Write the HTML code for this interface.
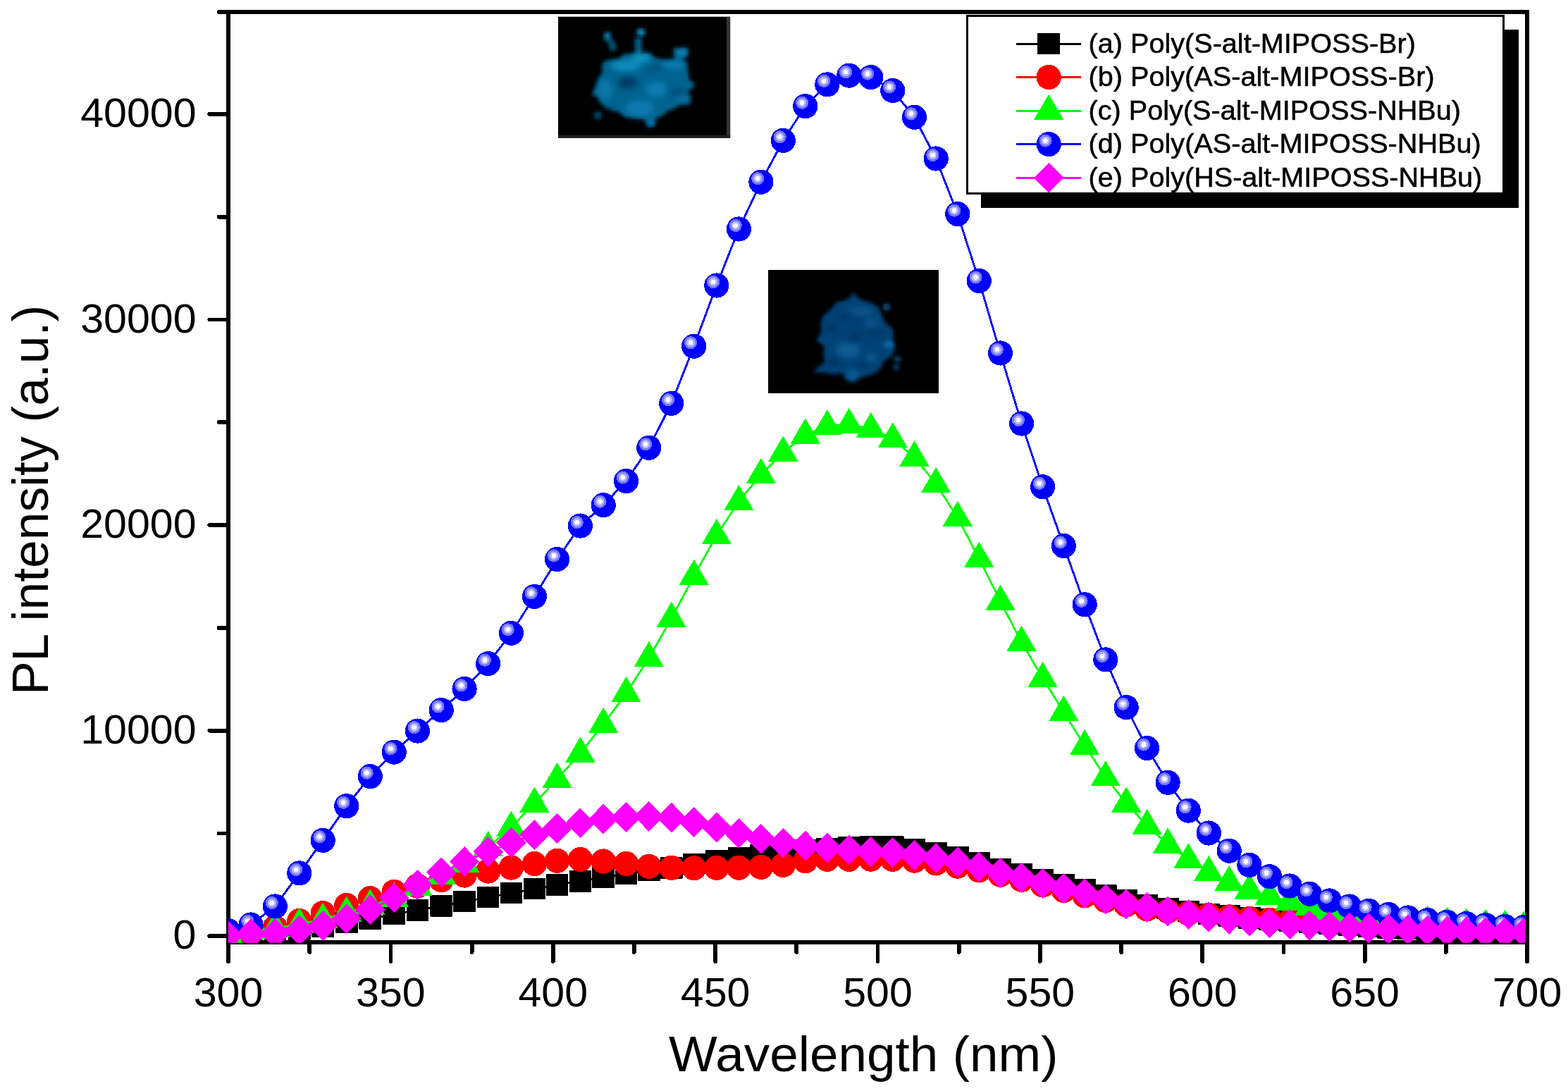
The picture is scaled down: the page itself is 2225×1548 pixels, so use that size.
<!DOCTYPE html>
<html lang="en"><head><meta charset="utf-8"><title>PL intensity vs wavelength</title>
<style>
html,body{margin:0;padding:0;background:#fff;}
body{width:2225px;height:1548px;}
svg{display:block;}
text{font-family:"Liberation Sans",sans-serif;fill:#000;}
.ax{stroke:#000;stroke-width:5.8;fill:none;stroke-linecap:butt;}
.tk{stroke:#000;stroke-width:5.8;fill:none;stroke-linecap:round;}
.tl{font-size:57.00px;}
.tt{font-size:71.30px;}
.lg{font-size:38.40px;stroke:#000;stroke-width:0.55px;}
</style></head><body>
<svg width="2225" height="1548" viewBox="0 0 2225 1548" role="img" aria-label="PL intensity versus wavelength">
<defs>
<clipPath id="plot"><rect x="324" y="17" width="1840.3" height="1320.7"/></clipPath>
<filter id="b1" x="-20%" y="-20%" width="140%" height="140%"><feGaussianBlur stdDeviation="2.2"/></filter>
<filter id="b2" x="-30%" y="-30%" width="160%" height="160%"><feGaussianBlur stdDeviation="4"/></filter>
<filter id="pix" x="0" y="0" width="100%" height="100%" color-interpolation-filters="sRGB"><feFlood x="2" y="2" width="1" height="1"/><feComposite width="4.5" height="4.5"/><feTile result="dots"/><feComposite in="SourceGraphic" in2="dots" operator="in"/><feMorphology operator="dilate" radius="2.25"/><feGaussianBlur stdDeviation="0.9"/></filter>
<clipPath id="ph1"><rect x="792" y="23.8" width="244.1" height="172"/></clipPath>
<clipPath id="ph2"><rect x="1090" y="383" width="242" height="175"/></clipPath>
<g id="mS"><rect x="-15.8" y="-15.3" width="31.6" height="30.6" rx="0.8" fill="#000"/></g>
<g id="mSl"><rect x="-16.05" y="-15.6" width="32.1" height="29.8" rx="0.8" fill="#000"/></g>
<g id="mC"><circle r="17.65" fill="#f00"/></g>
<g id="mT"><path d="M0,-23.6 L21.2,12.65 L-21.2,12.65 Z" fill="#0f0"/></g>
<g id="mB"><circle r="17.6" fill="#00f"/><circle cx="-4.7" cy="-5.0" r="9.1" fill="#7878f4"/><circle cx="-4.7" cy="-5.0" r="6.1" fill="#b6b6ff"/><circle cx="-4.7" cy="-5.0" r="3.3" fill="#fafaff"/></g>
<g id="mD"><path d="M0,-21.45 L21.25,0 L0,21.45 L-21.25,0 Z" fill="#f0f"/></g>
</defs>
<rect width="2225" height="1548" fill="#fff"/>
<g id="axes" shape-rendering="crispEdges">
<path class="ax" d="M324.0,14.0 V1364.0"/>
<path class="ax" d="M2167.0,14.0 V1364.0"/>
<path class="ax" d="M321.1,16.9 H2169.9"/>
<path class="ax" d="M321.1,1337.0 H2169.9"/>
<path class="tk" d="M297.3,1328.2 H324.0"/>
<path class="tk" d="M310.5,1182.4 H324.0"/>
<path class="tk" d="M297.3,1036.6 H324.0"/>
<path class="tk" d="M310.5,890.8 H324.0"/>
<path class="tk" d="M297.3,745.0 H324.0"/>
<path class="tk" d="M310.5,599.2 H324.0"/>
<path class="tk" d="M297.3,453.4 H324.0"/>
<path class="tk" d="M310.5,307.6 H324.0"/>
<path class="tk" d="M297.3,161.8 H324.0"/>
<path class="tk" d="M310.5,16.9 H324.0"/>
<path class="tk" d="M324.0,1337.0 V1364.0"/>
<path class="tk" d="M439.2,1337.0 V1351.0"/>
<path class="tk" d="M554.4,1337.0 V1364.0"/>
<path class="tk" d="M669.6,1337.0 V1351.0"/>
<path class="tk" d="M784.8,1337.0 V1364.0"/>
<path class="tk" d="M899.9,1337.0 V1351.0"/>
<path class="tk" d="M1015.1,1337.0 V1364.0"/>
<path class="tk" d="M1130.3,1337.0 V1351.0"/>
<path class="tk" d="M1245.5,1337.0 V1364.0"/>
<path class="tk" d="M1360.7,1337.0 V1351.0"/>
<path class="tk" d="M1475.9,1337.0 V1364.0"/>
<path class="tk" d="M1591.1,1337.0 V1351.0"/>
<path class="tk" d="M1706.2,1337.0 V1364.0"/>
<path class="tk" d="M1821.4,1337.0 V1351.0"/>
<path class="tk" d="M1936.6,1337.0 V1364.0"/>
<path class="tk" d="M2051.8,1337.0 V1351.0"/>
<path class="tk" d="M2167.0,1337.0 V1364.0"/>
</g>
<g id="ticklabels" class="tl">
<text transform="translate(278.5,1346.4) scale(1.0370,1)" text-anchor="end">0</text>
<text transform="translate(278.5,1054.8) scale(1.0370,1)" text-anchor="end">10000</text>
<text transform="translate(278.5,763.2) scale(1.0370,1)" text-anchor="end">20000</text>
<text transform="translate(278.5,471.6) scale(1.0370,1)" text-anchor="end">30000</text>
<text transform="translate(278.5,180.0) scale(1.0370,1)" text-anchor="end">40000</text>
<text transform="translate(324.0,1427.8) scale(1.0370,1)" text-anchor="middle">300</text>
<text transform="translate(554.4,1427.8) scale(1.0370,1)" text-anchor="middle">350</text>
<text transform="translate(784.8,1427.8) scale(1.0370,1)" text-anchor="middle">400</text>
<text transform="translate(1015.1,1427.8) scale(1.0370,1)" text-anchor="middle">450</text>
<text transform="translate(1245.5,1427.8) scale(1.0370,1)" text-anchor="middle">500</text>
<text transform="translate(1475.9,1427.8) scale(1.0370,1)" text-anchor="middle">550</text>
<text transform="translate(1706.2,1427.8) scale(1.0370,1)" text-anchor="middle">600</text>
<text transform="translate(1936.6,1427.8) scale(1.0370,1)" text-anchor="middle">650</text>
<text transform="translate(2167.0,1427.8) scale(1.0370,1)" text-anchor="middle">700</text>
</g>
<text class="tt" x="1225.3" y="1519.5" text-anchor="middle" textLength="552.6" lengthAdjust="spacingAndGlyphs">Wavelength (nm)</text>
<text style="font-size:71.50px" transform="translate(67.6,709.4) rotate(-90)" text-anchor="middle" textLength="553.3" lengthAdjust="spacingAndGlyphs">PL intensity (a.u.)</text>
<g id="photo1">
<rect x="792" y="23.8" width="244.1" height="172" fill="#000"/>
<g clip-path="url(#ph1)"><g transform="translate(792,23.8)"><g filter="url(#pix)"><g transform="translate(-792,-23.8)"><rect x="792" y="23.8" width="244.1" height="172" fill="#000"/>
<g filter="url(#b1)">
<polygon points="859.1,86.2 880.4,84.3 884.3,77.5 897.8,76.5 907.5,75.5 920.1,76.5 927.9,81.4 936.6,84.3 951.1,86.2 959.8,84.3 973.4,87.2 975.3,97.8 977.3,113.3 985.0,119.1 985.0,123.0 977.3,126.9 975.3,134.7 979.2,137.6 978.3,146.3 963.7,148.2 957.9,153.1 946.3,156.9 939.5,163.7 926.9,170.5 917.2,170.5 907.5,167.6 888.1,165.7 878.4,158.9 868.8,155.0 859.1,151.1 851.3,144.3 849.4,136.6 839.7,134.7 846.5,122.1 849.4,112.4 855.2,102.7 854.2,93.0" fill="#04648f"/>
<polygon points="858.1,46.5 865.9,46.5 867.3,55.2 873.1,62.9 874.1,71.2 865.9,71.2 863.9,61.0 857.1,55.2" fill="#045274"/>
<polygon points="901.2,54.2 910.4,54.2 909.5,75.5 901.7,76.5" fill="#04608c"/>
<polygon points="956.0,68.8 975.3,67.8 976.3,78.4 968.6,84.3 958.9,86.2 956.9,78.4" fill="#046a9c"/>
<ellipse cx="862.0" cy="50.3" rx="4.1" ry="4.1" fill="#0a7ca8"/>
<ellipse cx="909.5" cy="46.0" rx="6.0" ry="5.0" fill="#0a86b6"/>
<ellipse cx="967.6" cy="73.6" rx="6.8" ry="4.8" fill="#0a7ab2"/>
<ellipse cx="848.4" cy="163.7" rx="5.3" ry="4.8" fill="#044a70"/>
<ellipse cx="923.5" cy="174.4" rx="6.8" ry="5.8" fill="#0670a6"/>
</g>
<clipPath id="bd1"><polygon points="859.1,86.2 880.4,84.3 884.3,77.5 897.8,76.5 907.5,75.5 920.1,76.5 927.9,81.4 936.6,84.3 951.1,86.2 959.8,84.3 973.4,87.2 975.3,97.8 977.3,113.3 985.0,119.1 985.0,123.0 977.3,126.9 975.3,134.7 979.2,137.6 978.3,146.3 963.7,148.2 957.9,153.1 946.3,156.9 939.5,163.7 926.9,170.5 917.2,170.5 907.5,167.6 888.1,165.7 878.4,158.9 868.8,155.0 859.1,151.1 851.3,144.3 849.4,136.6 839.7,134.7 846.5,122.1 849.4,112.4 855.2,102.7 854.2,93.0"/></clipPath>
<g filter="url(#b2)"><g clip-path="url(#bd1)">
<ellipse cx="888.1" cy="93.0" rx="20.3" ry="7.3" fill="#0a90c0"/>
<ellipse cx="910.4" cy="82.3" rx="13.6" ry="5.8" fill="#0a98c4"/>
<ellipse cx="956.0" cy="91.0" rx="16.5" ry="4.8" fill="#0a80b8"/>
<ellipse cx="890.1" cy="117.2" rx="14.5" ry="9.7" fill="#033e64"/>
<ellipse cx="929.8" cy="95.9" rx="12.6" ry="4.4" fill="#044e76"/>
<ellipse cx="931.7" cy="126.9" rx="15.5" ry="10.7" fill="#0a7ab0"/>
<ellipse cx="960.8" cy="130.8" rx="15.5" ry="5.8" fill="#04507c"/>
<ellipse cx="858.1" cy="126.9" rx="9.7" ry="14.5" fill="#0a78a8"/>
<ellipse cx="907.5" cy="154.0" rx="20.3" ry="11.6" fill="#0a78ae"/>
<ellipse cx="970.5" cy="141.4" rx="8.7" ry="4.8" fill="#0a6ea4"/>
<ellipse cx="870.7" cy="148.2" rx="10.7" ry="5.8" fill="#055f90"/>
</g></g>
</g></g></g></g>
<rect x="1031" y="23.8" width="5.1" height="172" fill="#333"/>
<rect x="792" y="191.8" width="244.1" height="4" fill="#222"/>
</g>
<g id="photo2">
<rect x="1090" y="383" width="242" height="175" fill="#000"/>
<g clip-path="url(#ph2)"><g transform="translate(1090,383)"><g filter="url(#pix)"><g transform="translate(-1090,-383)"><rect x="1090" y="383" width="242" height="175" fill="#000"/>
<g filter="url(#b1)">
<polygon points="1210.4,414.5 1215.3,422.3 1225.0,427.1 1236.6,431.0 1246.3,436.8 1251.1,448.4 1255.0,458.1 1265.7,465.9 1267.6,477.5 1265.7,485.3 1269.5,489.1 1268.6,496.9 1265.7,504.7 1254.0,511.4 1249.2,522.1 1241.4,528.9 1226.9,533.7 1217.2,535.7 1209.5,541.5 1199.8,535.7 1195.9,528.9 1184.3,529.8 1168.8,527.9 1154.2,527.9 1162.0,521.1 1170.7,514.3 1168.8,501.7 1170.7,492.1 1159.1,482.4 1165.9,472.7 1164.9,458.1 1168.8,448.4 1178.4,440.7 1188.1,429.1 1197.8,427.1 1205.6,424.2" fill="#024274"/>
<ellipse cx="1257.9" cy="435.9" rx="4.1" ry="4.1" fill="#0a5e98"/>
<ellipse cx="1273.4" cy="509.5" rx="4.1" ry="3.5" fill="#0a4e84"/>
<ellipse cx="1272.0" cy="520.6" rx="3.9" ry="3.5" fill="#04427a"/>
<ellipse cx="1261.8" cy="488.7" rx="6.8" ry="4.8" fill="#0a66a6"/>
</g>
<clipPath id="bd2"><polygon points="1210.4,414.5 1215.3,422.3 1225.0,427.1 1236.6,431.0 1246.3,436.8 1251.1,448.4 1255.0,458.1 1265.7,465.9 1267.6,477.5 1265.7,485.3 1269.5,489.1 1268.6,496.9 1265.7,504.7 1254.0,511.4 1249.2,522.1 1241.4,528.9 1226.9,533.7 1217.2,535.7 1209.5,541.5 1199.8,535.7 1195.9,528.9 1184.3,529.8 1168.8,527.9 1154.2,527.9 1162.0,521.1 1170.7,514.3 1168.8,501.7 1170.7,492.1 1159.1,482.4 1165.9,472.7 1164.9,458.1 1168.8,448.4 1178.4,440.7 1188.1,429.1 1197.8,427.1 1205.6,424.2"/></clipPath>
<g filter="url(#b2)"><g clip-path="url(#bd2)">
<ellipse cx="1222.1" cy="441.7" rx="19.4" ry="5.3" fill="#0a548c"/>
<ellipse cx="1203.6" cy="449.9" rx="16.5" ry="3.1" fill="#022e5e"/>
<ellipse cx="1180.4" cy="465.9" rx="8.7" ry="4.4" fill="#022a5a"/>
<ellipse cx="1212.4" cy="478.5" rx="6.8" ry="5.3" fill="#022c58"/>
<ellipse cx="1241.4" cy="471.2" rx="15.5" ry="3.9" fill="#023062"/>
<ellipse cx="1203.6" cy="496.9" rx="16.5" ry="10.7" fill="#0a5a92"/>
<ellipse cx="1236.6" cy="507.6" rx="7.8" ry="4.8" fill="#0a5c96"/>
<ellipse cx="1183.3" cy="514.8" rx="10.7" ry="3.9" fill="#022654"/>
<ellipse cx="1222.1" cy="518.7" rx="10.7" ry="3.4" fill="#023264"/>
<ellipse cx="1210.4" cy="532.8" rx="8.7" ry="6.8" fill="#0a609c"/>
<ellipse cx="1182.3" cy="525.0" rx="7.8" ry="2.9" fill="#044486"/>
<ellipse cx="1236.6" cy="458.1" rx="10.7" ry="5.8" fill="#085088"/>
</g></g>
</g></g></g></g></g>
<g id="series" clip-path="url(#plot)" shape-rendering="crispEdges">
<g id="sa">
<polyline fill="none" stroke="#000" stroke-width="2.8" stroke-linejoin="round" points="324.0,1327.0 356.0,1325.0 390.4,1321.0 424.8,1318.4 458.2,1314.4 491.8,1309.2 525.3,1303.3 559.2,1297.1 592.4,1291.3 626.2,1285.3 659.1,1279.2 692.6,1273.2 725.4,1267.1 758.4,1261.1 790.6,1255.3 823.4,1250.3 856.2,1245.2 888.5,1240.0 920.8,1234.9 952.8,1231.7 984.7,1225.9 1016.8,1220.8 1048.4,1217.1 1079.9,1213.5 1111.3,1210.0 1142.8,1206.7 1173.8,1204.0 1204.8,1202.0 1235.8,1201.5 1266.8,1201.5 1297.5,1205.7 1328.2,1209.8 1358.8,1215.8 1389.3,1224.1 1419.5,1232.9 1449.6,1240.5 1479.6,1248.0 1509.4,1254.8 1539.2,1262.6 1568.8,1270.7 1598.2,1277.7 1627.6,1284.0 1657.1,1289.0 1686.3,1292.8 1715.3,1297.1 1744.2,1299.4 1772.9,1302.5 1801.6,1304.7 1830.2,1306.6 1858.4,1309.0 1886.5,1311.0 1914.7,1313.0 1942.3,1314.9 1970.2,1316.3 1998.0,1317.6 2025.7,1318.8 2053.3,1320.0 2080.8,1321.0 2108.0,1322.0 2135.4,1322.8 2162.2,1323.5"/>
<use href="#mS" x="324.0" y="1327.0"/>
<use href="#mS" x="356.0" y="1325.0"/>
<use href="#mS" x="390.4" y="1321.0"/>
<use href="#mS" x="424.8" y="1318.4"/>
<use href="#mS" x="458.2" y="1314.4"/>
<use href="#mS" x="491.8" y="1309.2"/>
<use href="#mS" x="525.3" y="1303.3"/>
<use href="#mS" x="559.2" y="1297.1"/>
<use href="#mS" x="592.4" y="1291.3"/>
<use href="#mS" x="626.2" y="1285.3"/>
<use href="#mS" x="659.1" y="1279.2"/>
<use href="#mS" x="692.6" y="1273.2"/>
<use href="#mS" x="725.4" y="1267.1"/>
<use href="#mS" x="758.4" y="1261.1"/>
<use href="#mS" x="790.6" y="1255.3"/>
<use href="#mS" x="823.4" y="1250.3"/>
<use href="#mS" x="856.2" y="1245.2"/>
<use href="#mS" x="888.5" y="1240.0"/>
<use href="#mS" x="920.8" y="1234.9"/>
<use href="#mS" x="952.8" y="1231.7"/>
<use href="#mS" x="984.7" y="1225.9"/>
<use href="#mS" x="1016.8" y="1220.8"/>
<use href="#mS" x="1048.4" y="1217.1"/>
<use href="#mS" x="1079.9" y="1213.5"/>
<use href="#mS" x="1111.3" y="1210.0"/>
<use href="#mS" x="1142.8" y="1206.7"/>
<use href="#mS" x="1173.8" y="1204.0"/>
<use href="#mS" x="1204.8" y="1202.0"/>
<use href="#mS" x="1235.8" y="1201.5"/>
<use href="#mS" x="1266.8" y="1201.5"/>
<use href="#mS" x="1297.5" y="1205.7"/>
<use href="#mS" x="1328.2" y="1209.8"/>
<use href="#mS" x="1358.8" y="1215.8"/>
<use href="#mS" x="1389.3" y="1224.1"/>
<use href="#mS" x="1419.5" y="1232.9"/>
<use href="#mS" x="1449.6" y="1240.5"/>
<use href="#mS" x="1479.6" y="1248.0"/>
<use href="#mS" x="1509.4" y="1254.8"/>
<use href="#mS" x="1539.2" y="1262.6"/>
<use href="#mS" x="1568.8" y="1270.7"/>
<use href="#mS" x="1598.2" y="1277.7"/>
<use href="#mS" x="1627.6" y="1284.0"/>
<use href="#mS" x="1657.1" y="1289.0"/>
<use href="#mS" x="1686.3" y="1292.8"/>
<use href="#mS" x="1715.3" y="1297.1"/>
<use href="#mS" x="1744.2" y="1299.4"/>
<use href="#mS" x="1772.9" y="1302.5"/>
<use href="#mS" x="1801.6" y="1304.7"/>
<use href="#mS" x="1830.2" y="1306.6"/>
<use href="#mS" x="1858.4" y="1309.0"/>
<use href="#mS" x="1886.5" y="1311.0"/>
<use href="#mS" x="1914.7" y="1313.0"/>
<use href="#mS" x="1942.3" y="1314.9"/>
<use href="#mS" x="1970.2" y="1316.3"/>
<use href="#mS" x="1998.0" y="1317.6"/>
<use href="#mS" x="2025.7" y="1318.8"/>
<use href="#mS" x="2053.3" y="1320.0"/>
<use href="#mS" x="2080.8" y="1321.0"/>
<use href="#mS" x="2108.0" y="1322.0"/>
<use href="#mS" x="2135.4" y="1322.8"/>
<use href="#mS" x="2162.2" y="1323.5"/>
</g>
<g id="sb">
<polyline fill="none" stroke="#f00" stroke-width="2.8" stroke-linejoin="round" points="324.0,1326.0 356.0,1323.0 390.4,1316.0 424.8,1306.5 458.2,1295.6 491.8,1284.5 525.3,1274.6 559.2,1265.4 592.4,1257.0 626.2,1248.5 659.1,1242.0 692.6,1236.0 725.4,1231.0 758.4,1225.6 790.6,1221.3 823.4,1219.5 856.2,1222.0 888.5,1225.6 920.8,1229.4 952.8,1231.2 984.7,1231.7 1016.8,1231.4 1048.4,1231.2 1079.9,1230.4 1111.3,1227.4 1142.8,1221.6 1173.8,1219.3 1204.8,1219.3 1235.8,1219.1 1266.8,1219.3 1297.5,1221.1 1328.2,1224.9 1358.8,1229.1 1389.3,1234.9 1419.5,1241.2 1449.6,1248.3 1479.6,1255.8 1509.4,1263.4 1539.2,1270.9 1568.8,1277.7 1598.2,1284.0 1627.6,1289.8 1657.1,1293.0 1686.3,1296.0 1715.3,1298.3 1744.2,1300.9 1772.9,1303.3 1801.6,1305.3 1830.2,1307.0 1858.4,1308.5 1886.5,1310.0 1914.7,1311.3 1942.3,1312.5 1970.2,1313.5 1998.0,1314.5 2025.7,1315.5 2053.3,1316.3 2080.8,1317.0 2108.0,1317.7 2135.4,1318.3 2162.2,1319.0"/>
<use href="#mC" x="324.0" y="1326.0"/>
<use href="#mC" x="356.0" y="1323.0"/>
<use href="#mC" x="390.4" y="1316.0"/>
<use href="#mC" x="424.8" y="1306.5"/>
<use href="#mC" x="458.2" y="1295.6"/>
<use href="#mC" x="491.8" y="1284.5"/>
<use href="#mC" x="525.3" y="1274.6"/>
<use href="#mC" x="559.2" y="1265.4"/>
<use href="#mC" x="592.4" y="1257.0"/>
<use href="#mC" x="626.2" y="1248.5"/>
<use href="#mC" x="659.1" y="1242.0"/>
<use href="#mC" x="692.6" y="1236.0"/>
<use href="#mC" x="725.4" y="1231.0"/>
<use href="#mC" x="758.4" y="1225.6"/>
<use href="#mC" x="790.6" y="1221.3"/>
<use href="#mC" x="823.4" y="1219.5"/>
<use href="#mC" x="856.2" y="1222.0"/>
<use href="#mC" x="888.5" y="1225.6"/>
<use href="#mC" x="920.8" y="1229.4"/>
<use href="#mC" x="952.8" y="1231.2"/>
<use href="#mC" x="984.7" y="1231.7"/>
<use href="#mC" x="1016.8" y="1231.4"/>
<use href="#mC" x="1048.4" y="1231.2"/>
<use href="#mC" x="1079.9" y="1230.4"/>
<use href="#mC" x="1111.3" y="1227.4"/>
<use href="#mC" x="1142.8" y="1221.6"/>
<use href="#mC" x="1173.8" y="1219.3"/>
<use href="#mC" x="1204.8" y="1219.3"/>
<use href="#mC" x="1235.8" y="1219.1"/>
<use href="#mC" x="1266.8" y="1219.3"/>
<use href="#mC" x="1297.5" y="1221.1"/>
<use href="#mC" x="1328.2" y="1224.9"/>
<use href="#mC" x="1358.8" y="1229.1"/>
<use href="#mC" x="1389.3" y="1234.9"/>
<use href="#mC" x="1419.5" y="1241.2"/>
<use href="#mC" x="1449.6" y="1248.3"/>
<use href="#mC" x="1479.6" y="1255.8"/>
<use href="#mC" x="1509.4" y="1263.4"/>
<use href="#mC" x="1539.2" y="1270.9"/>
<use href="#mC" x="1568.8" y="1277.7"/>
<use href="#mC" x="1598.2" y="1284.0"/>
<use href="#mC" x="1627.6" y="1289.8"/>
<use href="#mC" x="1657.1" y="1293.0"/>
<use href="#mC" x="1686.3" y="1296.0"/>
<use href="#mC" x="1715.3" y="1298.3"/>
<use href="#mC" x="1744.2" y="1300.9"/>
<use href="#mC" x="1772.9" y="1303.3"/>
<use href="#mC" x="1801.6" y="1305.3"/>
<use href="#mC" x="1830.2" y="1307.0"/>
<use href="#mC" x="1858.4" y="1308.5"/>
<use href="#mC" x="1886.5" y="1310.0"/>
<use href="#mC" x="1914.7" y="1311.3"/>
<use href="#mC" x="1942.3" y="1312.5"/>
<use href="#mC" x="1970.2" y="1313.5"/>
<use href="#mC" x="1998.0" y="1314.5"/>
<use href="#mC" x="2025.7" y="1315.5"/>
<use href="#mC" x="2053.3" y="1316.3"/>
<use href="#mC" x="2080.8" y="1317.0"/>
<use href="#mC" x="2108.0" y="1317.7"/>
<use href="#mC" x="2135.4" y="1318.3"/>
<use href="#mC" x="2162.2" y="1319.0"/>
</g>
<g id="sc">
<polyline fill="none" stroke="#0f0" stroke-width="2.8" stroke-linejoin="round" points="324.0,1325.8 356.0,1320.5 390.4,1317.0 424.8,1311.4 458.2,1304.2 491.8,1295.0 525.3,1285.0 559.2,1274.8 592.4,1258.6 626.2,1242.7 659.1,1225.0 692.6,1202.4 725.4,1174.0 758.4,1140.0 790.6,1105.4 823.4,1069.0 856.2,1027.3 888.5,983.7 920.8,933.6 952.8,877.4 984.7,817.4 1016.8,759.6 1048.4,711.5 1079.9,673.5 1111.3,642.1 1142.8,616.9 1173.8,604.8 1204.8,602.3 1235.8,608.6 1266.8,622.7 1297.5,648.9 1328.2,686.5 1358.8,734.4 1389.3,792.3 1419.5,853.3 1449.6,911.2 1479.6,962.4 1509.4,1010.2 1539.2,1058.4 1568.8,1102.8 1598.2,1140.0 1627.6,1171.5 1657.1,1197.9 1686.3,1219.8 1715.3,1237.4 1744.2,1251.5 1772.9,1262.9 1801.6,1271.7 1830.2,1279.2 1858.4,1286.0 1886.5,1292.0 1914.7,1297.0 1942.3,1301.0 1970.2,1304.5 1998.0,1306.4 2025.7,1308.2 2053.3,1310.2 2080.8,1312.0 2108.0,1313.3 2135.4,1314.2 2162.2,1316.0"/>
<use href="#mT" x="324.0" y="1325.8"/>
<use href="#mT" x="356.0" y="1320.5"/>
<use href="#mT" x="390.4" y="1317.0"/>
<use href="#mT" x="424.8" y="1311.4"/>
<use href="#mT" x="458.2" y="1304.2"/>
<use href="#mT" x="491.8" y="1295.0"/>
<use href="#mT" x="525.3" y="1285.0"/>
<use href="#mT" x="559.2" y="1274.8"/>
<use href="#mT" x="592.4" y="1258.6"/>
<use href="#mT" x="626.2" y="1242.7"/>
<use href="#mT" x="659.1" y="1225.0"/>
<use href="#mT" x="692.6" y="1202.4"/>
<use href="#mT" x="725.4" y="1174.0"/>
<use href="#mT" x="758.4" y="1140.0"/>
<use href="#mT" x="790.6" y="1105.4"/>
<use href="#mT" x="823.4" y="1069.0"/>
<use href="#mT" x="856.2" y="1027.3"/>
<use href="#mT" x="888.5" y="983.7"/>
<use href="#mT" x="920.8" y="933.6"/>
<use href="#mT" x="952.8" y="877.4"/>
<use href="#mT" x="984.7" y="817.4"/>
<use href="#mT" x="1016.8" y="759.6"/>
<use href="#mT" x="1048.4" y="711.5"/>
<use href="#mT" x="1079.9" y="673.5"/>
<use href="#mT" x="1111.3" y="642.1"/>
<use href="#mT" x="1142.8" y="616.9"/>
<use href="#mT" x="1173.8" y="604.8"/>
<use href="#mT" x="1204.8" y="602.3"/>
<use href="#mT" x="1235.8" y="608.6"/>
<use href="#mT" x="1266.8" y="622.7"/>
<use href="#mT" x="1297.5" y="648.9"/>
<use href="#mT" x="1328.2" y="686.5"/>
<use href="#mT" x="1358.8" y="734.4"/>
<use href="#mT" x="1389.3" y="792.3"/>
<use href="#mT" x="1419.5" y="853.3"/>
<use href="#mT" x="1449.6" y="911.2"/>
<use href="#mT" x="1479.6" y="962.4"/>
<use href="#mT" x="1509.4" y="1010.2"/>
<use href="#mT" x="1539.2" y="1058.4"/>
<use href="#mT" x="1568.8" y="1102.8"/>
<use href="#mT" x="1598.2" y="1140.0"/>
<use href="#mT" x="1627.6" y="1171.5"/>
<use href="#mT" x="1657.1" y="1197.9"/>
<use href="#mT" x="1686.3" y="1219.8"/>
<use href="#mT" x="1715.3" y="1237.4"/>
<use href="#mT" x="1744.2" y="1251.5"/>
<use href="#mT" x="1772.9" y="1262.9"/>
<use href="#mT" x="1801.6" y="1271.7"/>
<use href="#mT" x="1830.2" y="1279.2"/>
<use href="#mT" x="1858.4" y="1286.0"/>
<use href="#mT" x="1886.5" y="1292.0"/>
<use href="#mT" x="1914.7" y="1297.0"/>
<use href="#mT" x="1942.3" y="1301.0"/>
<use href="#mT" x="1970.2" y="1304.5"/>
<use href="#mT" x="1998.0" y="1306.4"/>
<use href="#mT" x="2025.7" y="1308.2"/>
<use href="#mT" x="2053.3" y="1310.2"/>
<use href="#mT" x="2080.8" y="1312.0"/>
<use href="#mT" x="2108.0" y="1313.3"/>
<use href="#mT" x="2135.4" y="1314.2"/>
<use href="#mT" x="2162.2" y="1316.0"/>
</g>
<g id="sd">
<polyline fill="none" stroke="#00f" stroke-width="2.9" stroke-linejoin="round" points="324.0,1320.7 356.0,1312.0 390.4,1286.0 424.8,1238.9 458.2,1192.3 491.8,1143.7 525.3,1101.6 559.2,1067.1 592.4,1037.1 626.2,1007.6 659.1,977.4 692.6,941.6 725.4,898.3 758.4,846.4 790.6,793.5 823.4,746.1 856.2,716.7 888.5,682.5 920.8,635.3 952.8,572.3 984.7,491.2 1016.8,405.0 1048.4,325.0 1079.9,258.2 1111.3,199.3 1142.8,150.7 1173.8,119.9 1204.8,107.1 1235.8,109.6 1266.8,128.5 1297.5,166.3 1328.2,225.0 1358.8,303.6 1389.3,398.5 1419.5,501.0 1449.6,601.0 1479.6,690.8 1509.4,774.5 1539.2,857.8 1568.8,935.9 1598.2,1003.7 1627.6,1061.5 1657.1,1110.3 1686.3,1150.1 1715.3,1182.0 1744.2,1207.2 1772.9,1227.4 1801.6,1243.7 1830.2,1257.0 1858.4,1268.3 1886.5,1278.0 1914.7,1286.0 1942.3,1292.3 1970.2,1297.4 1998.0,1302.0 2025.7,1305.6 2053.3,1308.3 2080.8,1310.5 2108.0,1312.5 2135.4,1314.4 2162.2,1315.6"/>
<use href="#mB" x="324.0" y="1320.7"/>
<use href="#mB" x="356.0" y="1312.0"/>
<use href="#mB" x="390.4" y="1286.0"/>
<use href="#mB" x="424.8" y="1238.9"/>
<use href="#mB" x="458.2" y="1192.3"/>
<use href="#mB" x="491.8" y="1143.7"/>
<use href="#mB" x="525.3" y="1101.6"/>
<use href="#mB" x="559.2" y="1067.1"/>
<use href="#mB" x="592.4" y="1037.1"/>
<use href="#mB" x="626.2" y="1007.6"/>
<use href="#mB" x="659.1" y="977.4"/>
<use href="#mB" x="692.6" y="941.6"/>
<use href="#mB" x="725.4" y="898.3"/>
<use href="#mB" x="758.4" y="846.4"/>
<use href="#mB" x="790.6" y="793.5"/>
<use href="#mB" x="823.4" y="746.1"/>
<use href="#mB" x="856.2" y="716.7"/>
<use href="#mB" x="888.5" y="682.5"/>
<use href="#mB" x="920.8" y="635.3"/>
<use href="#mB" x="952.8" y="572.3"/>
<use href="#mB" x="984.7" y="491.2"/>
<use href="#mB" x="1016.8" y="405.0"/>
<use href="#mB" x="1048.4" y="325.0"/>
<use href="#mB" x="1079.9" y="258.2"/>
<use href="#mB" x="1111.3" y="199.3"/>
<use href="#mB" x="1142.8" y="150.7"/>
<use href="#mB" x="1173.8" y="119.9"/>
<use href="#mB" x="1204.8" y="107.1"/>
<use href="#mB" x="1235.8" y="109.6"/>
<use href="#mB" x="1266.8" y="128.5"/>
<use href="#mB" x="1297.5" y="166.3"/>
<use href="#mB" x="1328.2" y="225.0"/>
<use href="#mB" x="1358.8" y="303.6"/>
<use href="#mB" x="1389.3" y="398.5"/>
<use href="#mB" x="1419.5" y="501.0"/>
<use href="#mB" x="1449.6" y="601.0"/>
<use href="#mB" x="1479.6" y="690.8"/>
<use href="#mB" x="1509.4" y="774.5"/>
<use href="#mB" x="1539.2" y="857.8"/>
<use href="#mB" x="1568.8" y="935.9"/>
<use href="#mB" x="1598.2" y="1003.7"/>
<use href="#mB" x="1627.6" y="1061.5"/>
<use href="#mB" x="1657.1" y="1110.3"/>
<use href="#mB" x="1686.3" y="1150.1"/>
<use href="#mB" x="1715.3" y="1182.0"/>
<use href="#mB" x="1744.2" y="1207.2"/>
<use href="#mB" x="1772.9" y="1227.4"/>
<use href="#mB" x="1801.6" y="1243.7"/>
<use href="#mB" x="1830.2" y="1257.0"/>
<use href="#mB" x="1858.4" y="1268.3"/>
<use href="#mB" x="1886.5" y="1278.0"/>
<use href="#mB" x="1914.7" y="1286.0"/>
<use href="#mB" x="1942.3" y="1292.3"/>
<use href="#mB" x="1970.2" y="1297.4"/>
<use href="#mB" x="1998.0" y="1302.0"/>
<use href="#mB" x="2025.7" y="1305.6"/>
<use href="#mB" x="2053.3" y="1308.3"/>
<use href="#mB" x="2080.8" y="1310.5"/>
<use href="#mB" x="2108.0" y="1312.5"/>
<use href="#mB" x="2135.4" y="1314.4"/>
<use href="#mB" x="2162.2" y="1315.6"/>
</g>
<g id="se">
<polyline fill="none" stroke="#f0f" stroke-width="2.8" stroke-linejoin="round" points="324.0,1327.6 356.0,1325.1 390.4,1324.5 424.8,1320.0 458.2,1313.5 491.8,1303.7 525.3,1290.5 559.2,1273.7 592.4,1255.3 626.2,1237.7 659.1,1222.5 692.6,1208.2 725.4,1195.6 758.4,1184.8 790.6,1175.4 823.4,1167.9 856.2,1162.2 888.5,1159.4 920.8,1158.4 952.8,1160.2 984.7,1166.5 1016.8,1174.0 1048.4,1182.1 1079.9,1190.4 1111.3,1196.2 1142.8,1200.2 1173.8,1203.2 1204.8,1205.7 1235.8,1208.5 1266.8,1209.5 1297.5,1213.5 1328.2,1217.6 1358.8,1223.1 1389.3,1229.9 1419.5,1238.2 1449.6,1245.5 1479.6,1253.3 1509.4,1260.6 1539.2,1267.7 1568.8,1276.0 1598.2,1282.8 1627.6,1287.8 1657.1,1292.8 1686.3,1297.4 1715.3,1301.1 1744.2,1304.4 1772.9,1307.4 1801.6,1309.4 1830.2,1311.5 1858.4,1313.0 1886.5,1314.6 1914.7,1316.0 1942.3,1317.1 1970.2,1318.4 1998.0,1319.4 2025.7,1320.5 2053.3,1321.4 2080.8,1322.2 2108.0,1322.7 2135.4,1323.3 2162.2,1323.8"/>
<use href="#mD" x="324.0" y="1327.6"/>
<use href="#mD" x="356.0" y="1325.1"/>
<use href="#mD" x="390.4" y="1324.5"/>
<use href="#mD" x="424.8" y="1320.0"/>
<use href="#mD" x="458.2" y="1313.5"/>
<use href="#mD" x="491.8" y="1303.7"/>
<use href="#mD" x="525.3" y="1290.5"/>
<use href="#mD" x="559.2" y="1273.7"/>
<use href="#mD" x="592.4" y="1255.3"/>
<use href="#mD" x="626.2" y="1237.7"/>
<use href="#mD" x="659.1" y="1222.5"/>
<use href="#mD" x="692.6" y="1208.2"/>
<use href="#mD" x="725.4" y="1195.6"/>
<use href="#mD" x="758.4" y="1184.8"/>
<use href="#mD" x="790.6" y="1175.4"/>
<use href="#mD" x="823.4" y="1167.9"/>
<use href="#mD" x="856.2" y="1162.2"/>
<use href="#mD" x="888.5" y="1159.4"/>
<use href="#mD" x="920.8" y="1158.4"/>
<use href="#mD" x="952.8" y="1160.2"/>
<use href="#mD" x="984.7" y="1166.5"/>
<use href="#mD" x="1016.8" y="1174.0"/>
<use href="#mD" x="1048.4" y="1182.1"/>
<use href="#mD" x="1079.9" y="1190.4"/>
<use href="#mD" x="1111.3" y="1196.2"/>
<use href="#mD" x="1142.8" y="1200.2"/>
<use href="#mD" x="1173.8" y="1203.2"/>
<use href="#mD" x="1204.8" y="1205.7"/>
<use href="#mD" x="1235.8" y="1208.5"/>
<use href="#mD" x="1266.8" y="1209.5"/>
<use href="#mD" x="1297.5" y="1213.5"/>
<use href="#mD" x="1328.2" y="1217.6"/>
<use href="#mD" x="1358.8" y="1223.1"/>
<use href="#mD" x="1389.3" y="1229.9"/>
<use href="#mD" x="1419.5" y="1238.2"/>
<use href="#mD" x="1449.6" y="1245.5"/>
<use href="#mD" x="1479.6" y="1253.3"/>
<use href="#mD" x="1509.4" y="1260.6"/>
<use href="#mD" x="1539.2" y="1267.7"/>
<use href="#mD" x="1568.8" y="1276.0"/>
<use href="#mD" x="1598.2" y="1282.8"/>
<use href="#mD" x="1627.6" y="1287.8"/>
<use href="#mD" x="1657.1" y="1292.8"/>
<use href="#mD" x="1686.3" y="1297.4"/>
<use href="#mD" x="1715.3" y="1301.1"/>
<use href="#mD" x="1744.2" y="1304.4"/>
<use href="#mD" x="1772.9" y="1307.4"/>
<use href="#mD" x="1801.6" y="1309.4"/>
<use href="#mD" x="1830.2" y="1311.5"/>
<use href="#mD" x="1858.4" y="1313.0"/>
<use href="#mD" x="1886.5" y="1314.6"/>
<use href="#mD" x="1914.7" y="1316.0"/>
<use href="#mD" x="1942.3" y="1317.1"/>
<use href="#mD" x="1970.2" y="1318.4"/>
<use href="#mD" x="1998.0" y="1319.4"/>
<use href="#mD" x="2025.7" y="1320.5"/>
<use href="#mD" x="2053.3" y="1321.4"/>
<use href="#mD" x="2080.8" y="1322.2"/>
<use href="#mD" x="2108.0" y="1322.7"/>
<use href="#mD" x="2135.4" y="1323.3"/>
<use href="#mD" x="2162.2" y="1323.8"/>
</g>
</g>
<g id="legend" shape-rendering="crispEdges">
<rect x="1392" y="42" width="763" height="252.5" fill="#000"/>
<rect x="1372.6" y="22.45" width="760.85" height="251.85" fill="#fff" stroke="#000" stroke-width="2.9"/>
<path d="M1442,62.6 H1534.1" stroke="#000" stroke-width="2.8" fill="none"/>
<use href="#mSl" x="1488.2" y="62.6"/>
<text class="lg" x="1544.6" y="75.4" textLength="464.3" lengthAdjust="spacingAndGlyphs">(a) Poly(S-alt-MIPOSS-Br)</text>
<path d="M1442,109.5 H1534.1" stroke="#f00" stroke-width="2.8" fill="none"/>
<use href="#mC" x="1488.2" y="109.5"/>
<text class="lg" x="1544.6" y="122.3" textLength="491.0" lengthAdjust="spacingAndGlyphs">(b) Poly(AS-alt-MIPOSS-Br)</text>
<path d="M1442,157.3 H1534.1" stroke="#0f0" stroke-width="2.8" fill="none"/>
<use href="#mT" x="1488.2" y="157.3"/>
<text class="lg" x="1544.6" y="170.2" textLength="528.4" lengthAdjust="spacingAndGlyphs">(c) Poly(S-alt-MIPOSS-NHBu)</text>
<path d="M1442,204.6 H1534.1" stroke="#00f" stroke-width="2.8" fill="none"/>
<use href="#mB" x="1488.2" y="204.6"/>
<text class="lg" x="1544.6" y="217.4" textLength="557.1" lengthAdjust="spacingAndGlyphs">(d) Poly(AS-alt-MIPOSS-NHBu)</text>
<path d="M1442,252.3 H1534.1" stroke="#f0f" stroke-width="2.8" fill="none"/>
<use href="#mD" x="1488.2" y="252.3"/>
<text class="lg" x="1544.6" y="265.1" textLength="558.7" lengthAdjust="spacingAndGlyphs">(e) Poly(HS-alt-MIPOSS-NHBu)</text>
</g>
</svg></body></html>
